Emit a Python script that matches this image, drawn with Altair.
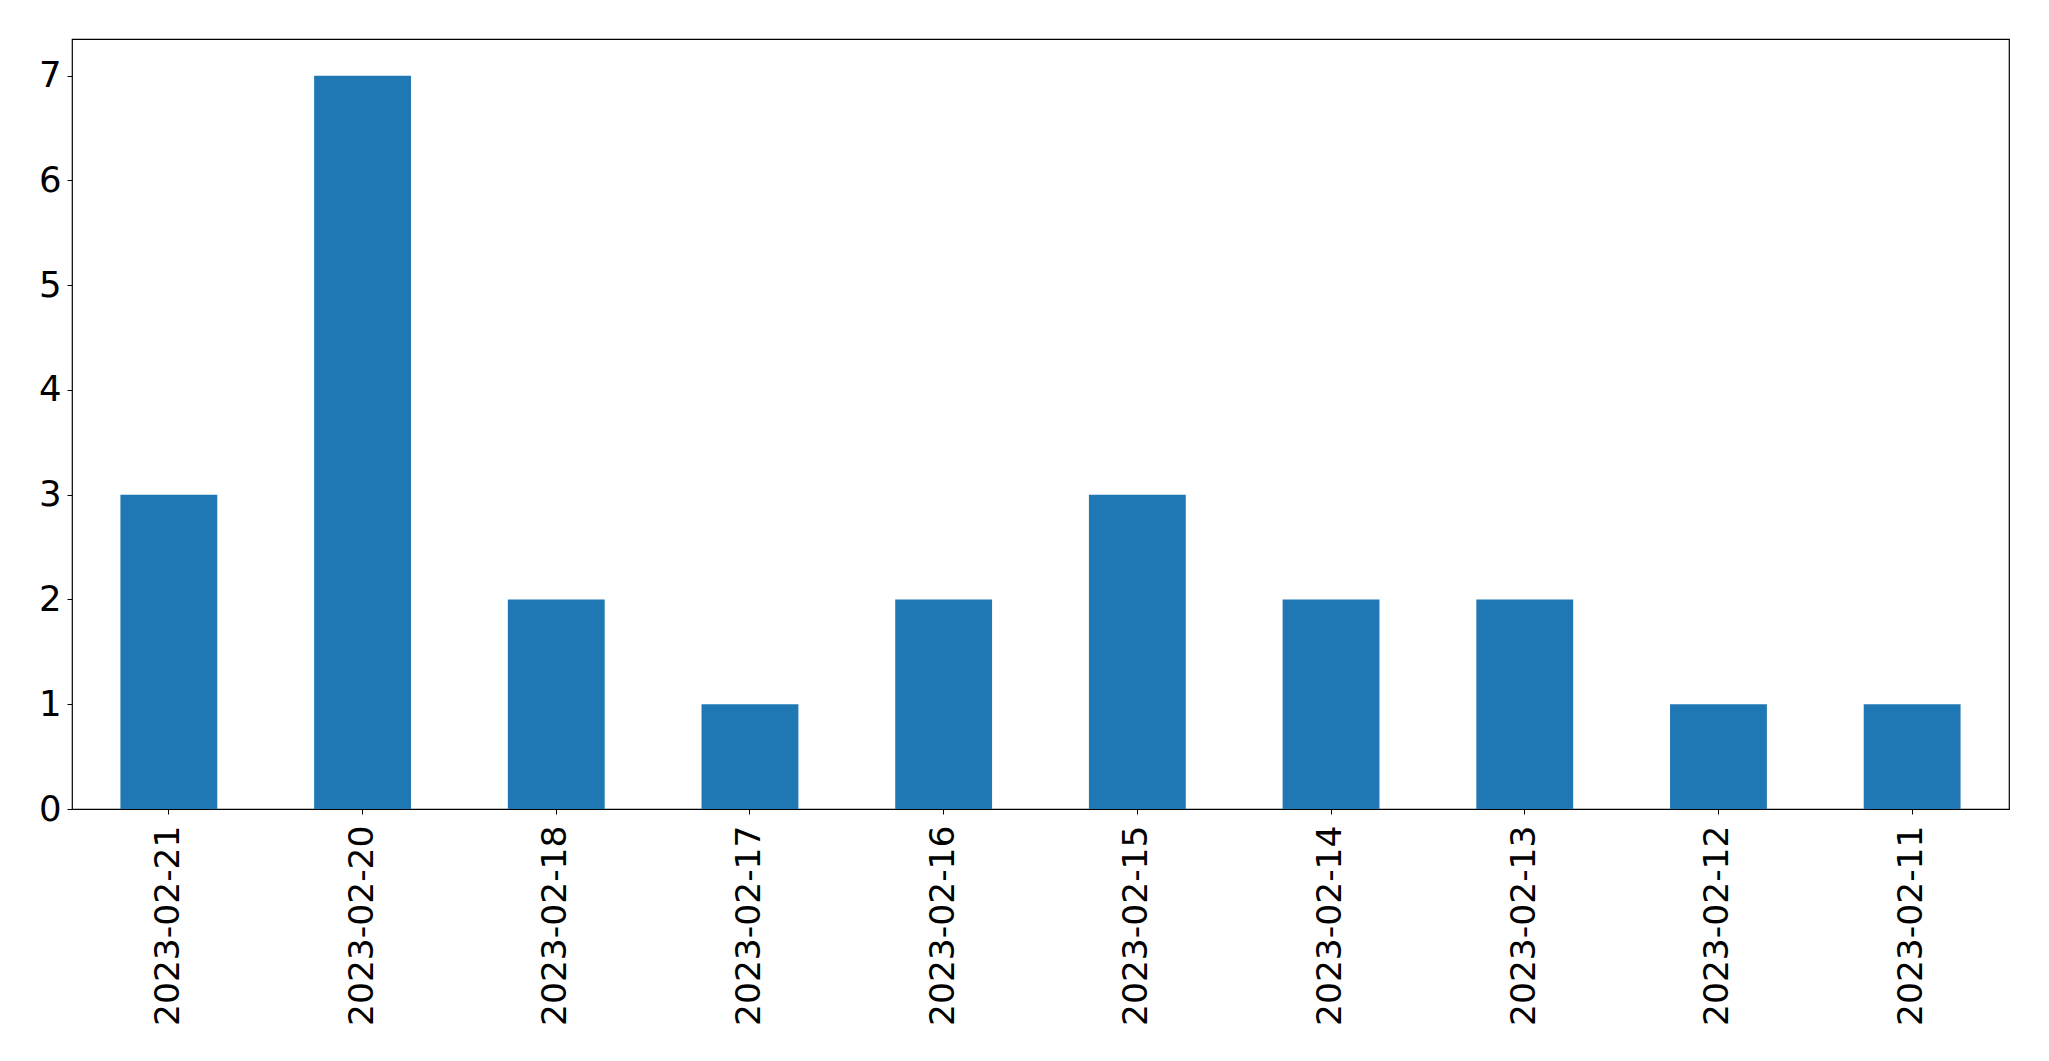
import altair as alt
import pandas as pd

dates = ["2023-02-21", "2023-02-20", "2023-02-18", "2023-02-17", "2023-02-16",
         "2023-02-15", "2023-02-14", "2023-02-13", "2023-02-12", "2023-02-11"]
counts = [3, 7, 2, 1, 2, 3, 2, 2, 1, 1]

df = pd.DataFrame({"date": dates, "count": counts})

chart = alt.Chart(df).mark_bar(color="#1f77b4").encode(
    x=alt.X("date:N", sort=None, title=None,
            scale=alt.Scale(paddingInner=0.5, paddingOuter=0.25),
            axis=alt.Axis(labelAngle=-90, labelFontSize=34.5, labelFont="DejaVu Sans",
                          labelColor="black", tickColor="black",
                          tickSize=5, labelPadding=11, domain=False, labelLimit=0)),
    y=alt.Y("count:Q", title=None,
            scale=alt.Scale(domain=[0, 7.35], nice=False, zero=True),
            axis=alt.Axis(values=[0, 1, 2, 3, 4, 5, 6, 7], labelFontSize=35.5,
                          labelFont="DejaVu Sans", labelColor="black",
                          tickColor="black", tickSize=5, labelPadding=6,
                          grid=False, domain=False)),
).properties(
    width=1937, height=770,
    autosize=alt.AutoSizeParams(type="none"),
    padding={"left": 64, "top": 31, "right": 30, "bottom": 230},
).configure(
    background="white",
    view=alt.ViewConfig(stroke="black", strokeWidth=1.2),
)

chart.save("out.html", embed_options={"renderer": "svg", "actions": False})
